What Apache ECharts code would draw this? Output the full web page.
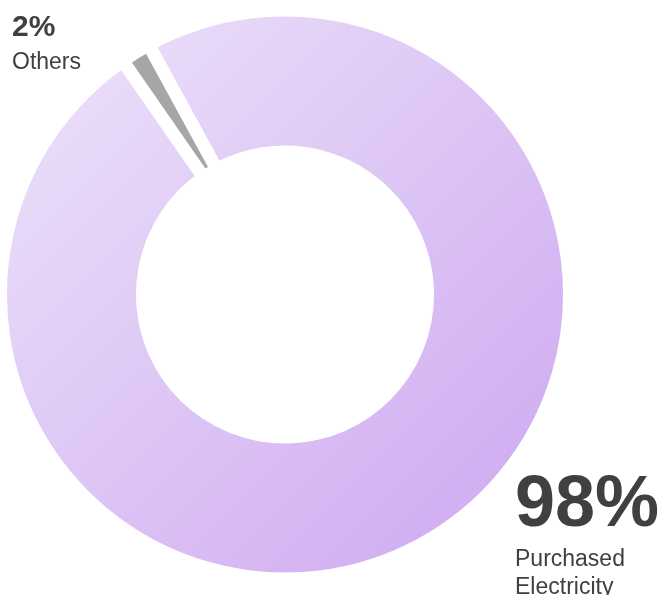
<!DOCTYPE html>
<html>
<head>
<meta charset="utf-8">
<script src="https://cdn.jsdelivr.net/npm/echarts@6/dist/echarts.min.js"></script>
<style>
  html, body { margin: 0; padding: 0; background: #fff; }
  #main { width: 662px; height: 595px; }
</style>
</head>
<body>
<div id="main"></div>
<script>
// data
var names = ['Purchased\nElectricity', 'Others'];
var shares = [98.3, 1.7];
var pctLabels = ['98%', '2%'];

var myChart = echarts.init(document.getElementById('main'));

// label spots (top-left corner of each text block)
var labelSpots = [
  { x: 515, y: 466, size: 72, plh: 80, sub: 23, lh: 28 },
  { x: 12, y: 6, size: 30, plh: 44, sub: 23, lh: 26 }
];

var seriesData = [];
for (var i = 0; i < names.length; i++) {
  var sp = labelSpots[i];
  seriesData.push({
    name: names[i],
    value: shares[i],
    itemStyle: {
      color: i == 0 ? {
        type: 'linear', x: 0, y: 0, x2: 1, y2: 1,
        colorStops: [{ offset: 0, color: '#eee5fa' }, { offset: 1, color: '#cca5f0' }]
      } : '#a6a6a6'
    },
    label: {
      formatter: '{p|' + pctLabels[i] + '}\n{n|' + names[i] + '}',
      rich: {
        p: { fontSize: sp.size, fontWeight: 'bold', color: '#404040', lineHeight: sp.plh, fontFamily: 'Liberation Sans' },
        n: { fontSize: sp.sub, color: '#404040', lineHeight: sp.lh, fontFamily: 'Liberation Sans' }
      }
    }
  });
}

var option = {
  animation: false,
  series: [{
    type: 'pie',
    center: [285, 294.5],
    radius: [142.5, 284.5],
    startAngle: 118.65,
    clockwise: true,
    avoidLabelOverlap: false,
    itemStyle: { borderColor: '#ffffff', borderWidth: 13 },
    emphasis: { disabled: true },
    label: { show: true, position: 'outside', align: 'left' },
    labelLine: { show: false },
    labelLayout: function (params) {
      var sp = labelSpots[params.dataIndex];
      return { x: sp.x, y: sp.y, align: 'left', verticalAlign: 'top', hideOverlap: false };
    },
    data: seriesData
  }]
};
myChart.setOption(option);
window.onresize = myChart.resize;
</script>
</body>
</html>
